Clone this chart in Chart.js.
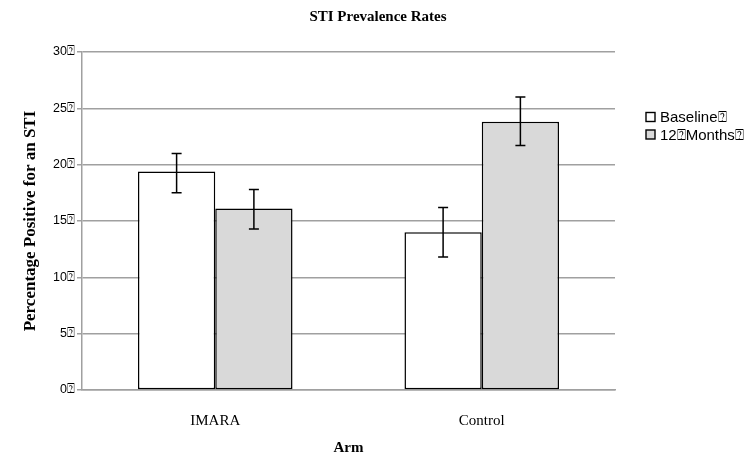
<!DOCTYPE html>
<html>
<head>
<meta charset="utf-8">
<script src="https://cdn.jsdelivr.net/npm/chart.js@4"></script>
<style>
  body { margin: 0; background: #fff; }
</style>
</head>
<body>
<canvas id="sti-chart" width="749" height="459"></canvas>
<script>
// chart data
const chartTitle = 'STI Prevalence Rates';
const categories = ['IMARA', 'Control'];
const seriesNames = ['Baseline\u2370', '12\u2370Months\u2370'];
const baseline = [19.4, 14.0];
const months12 = [16.1, 23.8];
const baselineLow = [17.5, 11.8];
const baselineHigh = [21.0, 16.2];
const months12Low = [14.3, 21.7];
const months12High = [17.8, 26.0];
const yTickLabels = ['0\u2370', '5\u2370', '10\u2370', '15\u2370', '20\u2370', '25\u2370', '30\u2370'];

const errorRanges = [
    { low: baselineLow, high: baselineHigh },
    { low: months12Low, high: months12High }
];

const serif = '"Liberation Serif", "Times New Roman", serif';
const sans = '"Liberation Sans", Arial, sans-serif';

// error bars drawn from the y scale
const errorBars = {
    id: 'errorBars',
    afterDatasetsDraw(chart) {
        const ctx = chart.ctx;
        const y = chart.scales.y;
        ctx.save();
        ctx.strokeStyle = '#000';
        ctx.lineWidth = 1.5;
        chart.data.datasets.forEach((ds, i) => {
            const meta = chart.getDatasetMeta(i);
            meta.data.forEach((bar, j) => {
                const top = y.getPixelForValue(errorRanges[i].high[j]);
                const bottom = y.getPixelForValue(errorRanges[i].low[j]);
                ctx.beginPath();
                ctx.moveTo(bar.x, top);
                ctx.lineTo(bar.x, bottom);
                ctx.moveTo(bar.x - 5, top);
                ctx.lineTo(bar.x + 5, top);
                ctx.moveTo(bar.x - 5, bottom);
                ctx.lineTo(bar.x + 5, bottom);
                ctx.stroke();
            });
        });
        ctx.restore();
    }
};

// title and legend placed like the original figure
const decorations = {
    id: 'decorations',
    afterDraw(chart) {
        const ctx = chart.ctx;
        ctx.save();
        ctx.fillStyle = '#000';
        ctx.textBaseline = 'middle';
        ctx.textAlign = 'center';
        ctx.font = 'bold 15px ' + serif;
        ctx.fillText(chartTitle, 378, 17);

        ctx.textAlign = 'left';
        ctx.font = '15px ' + sans;
        chart.data.datasets.forEach((ds, i) => {
            const yPos = 117 + i * 17.5;
            ctx.fillStyle = ds.backgroundColor;
            ctx.fillRect(646, yPos - 4.5, 9, 9);
            ctx.strokeStyle = '#000';
            ctx.lineWidth = 1.4;
            ctx.strokeRect(646, yPos - 4.5, 9, 9);
            ctx.fillStyle = '#000';
            ctx.fillText(ds.label, 660, yPos + 1);
        });
        ctx.restore();
    }
};

const ctx = document.getElementById('sti-chart').getContext('2d');
const stiChart = new Chart(ctx, {
    type: 'bar',
    data: {
        labels: categories,
        datasets: [{
            label: seriesNames[0],
            data: baseline,
            backgroundColor: '#ffffff',
            borderColor: '#000000',
            borderWidth: 1.5,
            borderSkipped: false
        }, {
            label: seriesNames[1],
            data: months12,
            backgroundColor: '#d9d9d9',
            borderColor: '#000000',
            borderWidth: 1.5,
            borderSkipped: false
        }]
    },
    options: {
        responsive: false,
        animation: false,
        layout: { padding: { left: 0, right: 134, top: 52, bottom: 0 } },
        datasets: {
            bar: { barPercentage: 1, categoryPercentage: 0.58 }
        },
        plugins: {
            legend: { display: false },
            tooltip: { enabled: false }
        },
        scales: {
            x: {
                afterFit(scale) { scale.height = 69; },
                grid: { display: false, drawTicks: false },
                border: { color: '#a0a0a0', width: 1.5 },
                ticks: {
                    color: '#000',
                    padding: 22,
                    font: { family: serif, size: 15 }
                },
                title: {
                    display: true,
                    text: 'Arm',
                    color: '#000',
                    font: { family: serif, size: 15, weight: 'bold' },
                    padding: { top: 0, bottom: 2 }
                }
            },
            y: {
                min: 0,
                max: 30,
                afterFit(scale) { scale.width = 82; },
                grid: { color: '#a0a0a0', lineWidth: 1.5, tickLength: 5 },
                border: { color: '#a0a0a0', width: 1.5 },
                ticks: {
                    stepSize: 5,
                    color: '#000',
                    padding: 2,
                    font: { family: sans, size: 12.5 },
                    callback: (value) => yTickLabels[value / 5]
                },
                title: {
                    display: true,
                    text: 'Percentage Positive for an STI',
                    color: '#000',
                    font: { family: serif, size: 17, weight: 'bold' },
                    padding: { top: 20, bottom: 0 }
                }
            }
        }
    },
    plugins: [errorBars, decorations]
});
</script>
</body>
</html>
